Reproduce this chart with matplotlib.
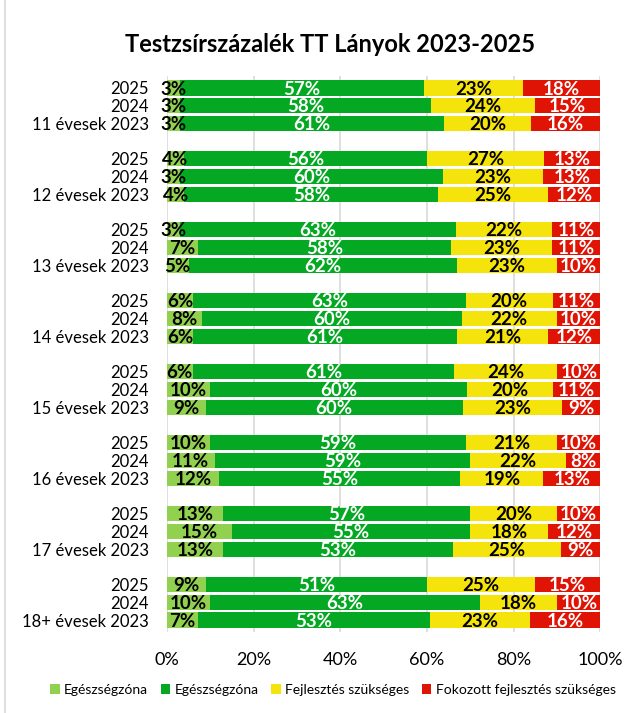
import matplotlib
matplotlib.use("Agg")
import matplotlib.pyplot as plt
import numpy as np

plt.rcParams['font.family'] = ['Lato', 'DejaVu Sans']

groups = ["11 évesek", "12 évesek", "13 évesek", "14 évesek", "15 évesek",
          "16 évesek", "17 évesek", "18+ évesek"]
years = ["2025", "2024", "2023"]
series_names = ["Egészségzóna", "Egészségzóna", "Fejlesztés szükséges",
                "Fokozott fejlesztés szükséges"]

# rows: per group, years 2025, 2024, 2023
light_green = [3, 3, 3, 4, 3, 4, 3, 7, 5, 6, 8, 6, 6, 10, 9, 10, 11, 12, 13, 15, 13, 9, 10, 7]
green = [57, 58, 61, 56, 60, 58, 63, 58, 62, 63, 60, 61, 61, 60, 60, 59, 59, 55, 57, 55, 53, 51, 63, 53]
yellow = [23, 24, 20, 27, 23, 25, 22, 23, 23, 20, 22, 21, 24, 20, 23, 21, 22, 19, 20, 18, 25, 25, 18, 23]
red = [18, 15, 16, 13, 13, 12, 11, 11, 10, 11, 10, 12, 10, 11, 9, 10, 8, 13, 10, 12, 9, 15, 10, 16]

colors = ["#92d050", "#05a823", "#f5e30c", "#e01405"]
text_colors = ["black", "white", "black", "white"]

data = np.array([light_green, green, yellow, red], dtype=float)
totals = data.sum(axis=0)
norm = data / totals * 100

positions = []
labels = []
for g, grp in enumerate(groups):
    for i, yr in enumerate(years):
        positions.append(4 * g + i)
        labels.append(f"{grp} {yr}" if yr == "2023" else yr)
positions = np.array(positions)

fig = plt.figure(figsize=(6.42, 7.13), dpi=100)
ax = fig.add_axes([0.260, 0.113, 0.675, 0.781])

left = np.zeros(len(positions))
for k in range(4):
    ax.barh(positions, norm[k], left=left, height=0.85, color=colors[k],
            label=series_names[k], zorder=3)
    for p, l, w, v in zip(positions, left, norm[k], data[k]):
        ax.text(l + w / 2, p + 0.06, f"{int(v)}%", ha="center", va="center",
                color=text_colors[k], fontsize=13.5, fontweight="bold", zorder=4)
    left += norm[k]

ax.set_xlim(0, 100)
ax.set_ylim(30.7, -0.7)
ax.set_xticks(np.arange(0, 101, 20))
ax.set_xticklabels([f"{t}%" for t in range(0, 101, 20)], fontsize=13)
ax.set_yticks(positions)
ax.set_yticklabels(labels, fontsize=12)
ax.tick_params(axis="both", length=0)
ax.tick_params(axis="y", pad=13)
ax.tick_params(axis="x", pad=14)
ax.grid(axis="x", color="#d9d9d9", linewidth=1.2, zorder=0)
for s in ax.spines.values():
    s.set_visible(False)

fig.text(330 / 642, 1 - 45 / 713, "Testzsírszázalék TT Lányok 2023-2025",
         ha="center", va="center", fontsize=17, fontweight="bold")

handles, lbls = ax.get_legend_handles_labels()
fig.legend(handles, lbls, loc="center", bbox_to_anchor=(333 / 642, 1 - 690 / 713),
           ncol=4, frameon=False, fontsize=10, handlelength=0.7, handleheight=0.7,
           handletextpad=0.3, columnspacing=0.9)

fig.patches.append(matplotlib.patches.Rectangle((0.008, -0.01), 1.1, 1.1,
                   transform=fig.transFigure, fill=False, edgecolor="#d9d9d9",
                   linewidth=1.2))

fig.savefig("out.png", dpi=100)
